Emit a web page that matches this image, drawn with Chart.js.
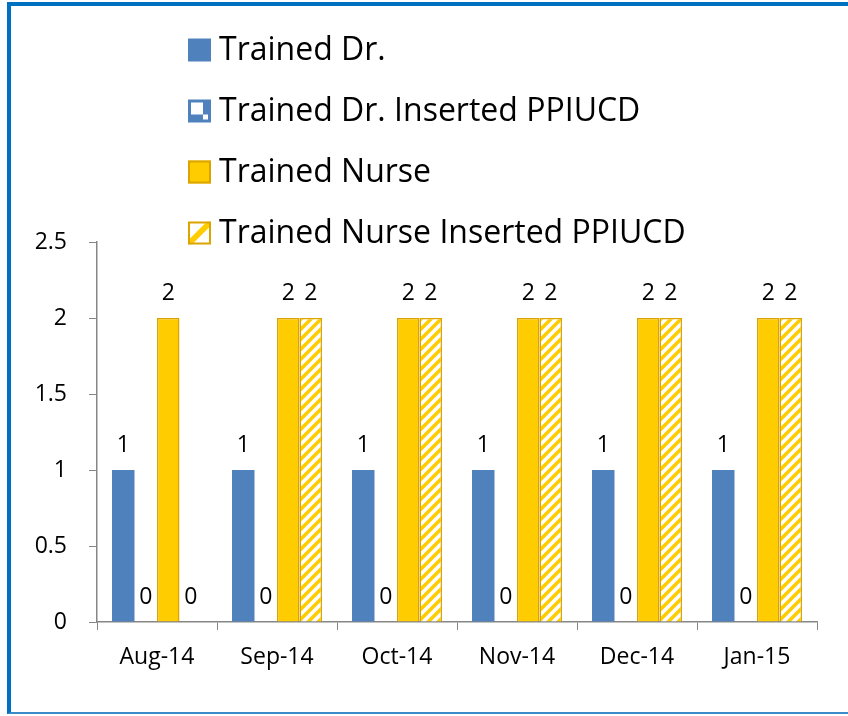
<!DOCTYPE html>
<html>
<head>
<meta charset="utf-8">
<script src="https://cdn.jsdelivr.net/npm/chart.js@4.4.1/dist/chart.umd.min.js"></script>
<style>
  html, body { margin: 0; padding: 0; background: #fff; }
  #wrap { position: relative; width: 848px; height: 716px; overflow: hidden; }
  #frame {
    position: absolute; left: 7px; top: 2px; width: 860px; height: 706px;
    border-top: 4px solid #0070C0; border-left: 4px solid #0070C0;
    border-bottom: 2px solid #3D8BC9; pointer-events: none;
  }
  canvas { position: absolute; left: 0; top: 0; }
</style>
</head>
<body>
<div id="wrap">
  <canvas id="chart" width="848" height="716"></canvas>
  <div id="frame"></div>
</div>
<script>
// data
const months = ['Aug-14', 'Sep-14', 'Oct-14', 'Nov-14', 'Dec-14', 'Jan-15'];
const trainedDr = [1, 1, 1, 1, 1, 1];
const trainedDrInserted = [0, 0, 0, 0, 0, 0];
const trainedNurse = [2, 2, 2, 2, 2, 2];
const trainedNurseInserted = [0, 2, 2, 2, 2, 2];
const yTicks = [0, 0.5, 1, 1.5, 2, 2.5];

const BLUE = '#4F81BD';
const YELLOW = '#FFCC00';
const GOLD = '#DBA400';
const FONT = '"Open Sans", "Noto Sans", sans-serif';

// motif hachuré jaune
function hatchPattern() {
  const c = document.createElement('canvas');
  c.width = 10; c.height = 10;
  const g = c.getContext('2d');
  g.fillStyle = '#fff';
  g.fillRect(0, 0, 10, 10);
  g.strokeStyle = YELLOW;
  g.lineWidth = 3.5;
  g.beginPath();
  g.moveTo(-2, 12); g.lineTo(12, -2);
  g.moveTo(-7, 7); g.lineTo(7, -7);
  g.moveTo(3, 17); g.lineTo(17, 3);
  g.stroke();
  return g.createPattern(c, 'repeat');
}

function checkPattern() {
  const c = document.createElement('canvas');
  c.width = 12; c.height = 12;
  const g = c.getContext('2d');
  g.fillStyle = BLUE;
  g.fillRect(0, 0, 12, 12);
  g.fillStyle = '#fff';
  g.fillRect(0, 0, 6, 6);
  g.fillRect(6, 6, 6, 6);
  return g.createPattern(c, 'repeat');
}

const hatch = hatchPattern();
const checker = checkPattern();

// etiquettes de valeurs au-dessus des barres
const valueLabels = {
  id: 'valueLabels',
  afterDatasetsDraw(chart) {
    const ctx = chart.ctx;
    ctx.save();
    ctx.font = '23px ' + FONT;
    ctx.fillStyle = '#000';
    ctx.textAlign = 'center';
    ctx.textBaseline = 'alphabetic';
    chart.data.datasets.forEach((ds, i) => {
      const meta = chart.getDatasetMeta(i);
      meta.data.forEach((bar, j) => {
        ctx.fillText(String(ds.data[j]), bar.x, bar.y - 18);
      });
    });
    ctx.restore();
  }
};

// légende verticale à gauche
const stackedLegend = {
  id: 'stackedLegend',
  afterDraw(chart) {
    const ctx = chart.ctx;
    const x = 188, y0 = 50, step = 61, box = 23;
    ctx.save();
    ctx.font = '32px ' + FONT;
    ctx.textBaseline = 'middle';
    ctx.textAlign = 'left';
    chart.data.datasets.forEach((ds, i) => {
      const cy = y0 + i * step;
      const top = cy - box / 2;
      if (i === 1) {
        ctx.fillStyle = BLUE;
        ctx.fillRect(x, top, box, box);
        ctx.fillStyle = '#fff';
        ctx.fillRect(x + 3, top + 3, 12, 12);
        ctx.fillRect(x + 15, top + 15, 5, 5);
      } else if (i === 3) {
        ctx.save();
        ctx.translate(x, top);
        ctx.fillStyle = '#fff';
        ctx.fillRect(0, 0, box, box);
        ctx.beginPath();
        ctx.rect(0, 0, box, box);
        ctx.clip();
        ctx.fillStyle = YELLOW;
        ctx.beginPath();
        ctx.moveTo(0, box - 4); ctx.lineTo(box - 4, 0); ctx.lineTo(box + 4, 0);
        ctx.lineTo(4, box); ctx.lineTo(0, box);
        ctx.closePath();
        ctx.fill();
        ctx.restore();
        ctx.strokeStyle = GOLD;
        ctx.lineWidth = 2;
        ctx.strokeRect(x + 1, top + 1, box - 2, box - 2);
      } else {
        ctx.fillStyle = ds.backgroundColor;
        ctx.fillRect(x, top, box, box);
        if (i === 2) {
          ctx.strokeStyle = GOLD;
          ctx.lineWidth = 2;
          ctx.strokeRect(x + 1, top + 1, box - 2, box - 2);
        }
      }
      ctx.fillStyle = '#000';
      ctx.fillText(ds.label, x + 31, cy + 1);
    });
    ctx.restore();
  }
};

const zeroless = (w) => (c) => (c.raw === 0 ? 0 : w);

new Chart(document.getElementById('chart'), {
  type: 'bar',
  data: {
    labels: months,
    datasets: [
      { label: 'Trained Dr.', data: trainedDr, backgroundColor: BLUE, borderWidth: 0 },
      { label: 'Trained Dr. Inserted PPIUCD', data: trainedDrInserted, backgroundColor: checker, borderColor: BLUE, borderWidth: zeroless(1) },
      { label: 'Trained Nurse', data: trainedNurse, backgroundColor: YELLOW, borderColor: GOLD, borderWidth: zeroless(1.5) },
      { label: 'Trained Nurse Inserted PPIUCD', data: trainedNurseInserted, backgroundColor: hatch, borderColor: GOLD, borderWidth: zeroless(1.5) }
    ]
  },
  options: {
    responsive: false,
    animation: false,
    events: [],
    categoryPercentage: 0.75,
    barPercentage: 1.0,
    layout: { padding: { top: 242, right: 31, left: 0, bottom: 0 } },
    plugins: {
      legend: { display: false },
      tooltip: { enabled: false }
    },
    scales: {
      x: {
        grid: { drawOnChartArea: false, drawTicks: true, tickLength: 8, color: '#868686', offset: true },
        border: { color: '#868686', width: 1.5 },
        ticks: { color: '#000', font: { family: FONT, size: 23 }, padding: 14, maxRotation: 0 },
        afterFit(scale) { scale.height = 94; }
      },
      y: {
        min: 0,
        max: 2.5,
        grid: { drawOnChartArea: false, drawTicks: true, tickLength: 8, color: '#868686' },
        border: { color: '#868686', width: 1.5 },
        afterBuildTicks(scale) { scale.ticks = yTicks.map(v => ({ value: v })); },
        ticks: {
          color: '#000', font: { family: FONT, size: 23 }, padding: 22,
          callback: (v) => String(v)
        },
        afterFit(scale) { scale.width = 97; }
      }
    }
  },
  plugins: [valueLabels, stackedLegend]
});
</script>
</body>
</html>
